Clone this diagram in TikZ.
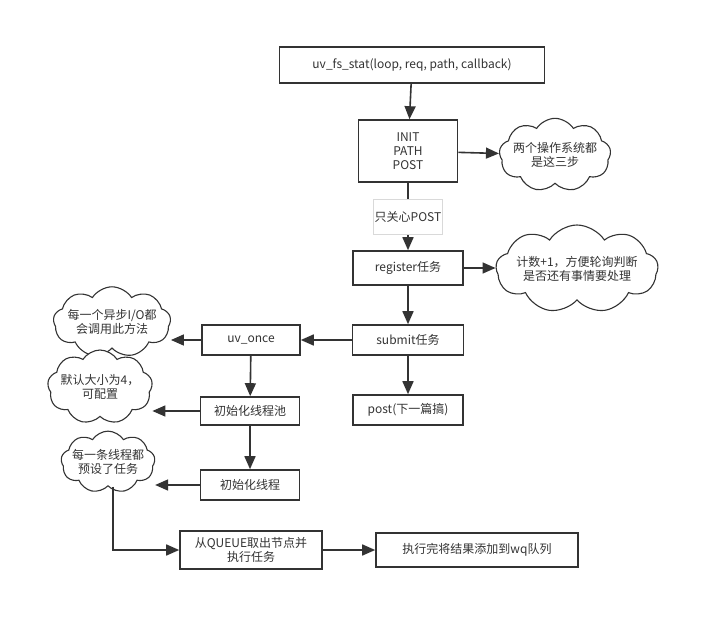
\documentclass[tikz,border=0pt]{standalone}
\usepackage{fontspec}
\setmainfont{Noto Sans CJK SC}
\usetikzlibrary{arrows.meta,positioning,shapes.symbols}
\definecolor{ink}{HTML}{333333}

\begin{document}
\begin{tikzpicture}[x=1pt, y=-1pt,
    box/.style={draw=ink, line width=1.6pt, minimum height=30pt, align=center, font=\fontsize{12}{14}\selectfont, text=ink, fill=white},
    note/.style={draw=ink, cloud, cloud puffs=9, cloud puff arc=115, line width=1.1pt, align=center, font=\fontsize{12}{14}\selectfont, text=ink, fill=white, inner sep=-4pt},
    arrow/.style={-{Triangle[length=13pt, width=11pt]}, line width=1.6pt, draw=ink}
]
\useasboundingbox (0,0) rectangle (720,631);

% main column
\node[box, minimum width=265pt, minimum height=36pt] (call) at (412,65) {uv\_fs\_stat(loop, req, path, callback)};
\node[box, minimum width=99pt, minimum height=62pt] (init) at (408,151) {INIT\\PATH\\POST};
\node[box, minimum width=110pt, minimum height=34pt] (reg) at (408,268) {register任务};
\node[box, minimum width=111pt] (submit) at (408,340) {submit任务};
\node[box, minimum width=110pt] (post) at (408,410) {post(下一篇搞)};

% left column
\node[box, minimum width=98pt] (once) at (251,340) {uv\_once};
\node[box, minimum width=99pt, minimum height=28pt] (pool) at (250,411) {初始化线程池};
\node[box, minimum width=99pt] (thread) at (250,485) {初始化线程};
\node[box, minimum width=142pt, minimum height=38pt] (fetch) at (251,550) {从QUEUE取出节点并\\执行任务};
\node[box, minimum width=202pt, minimum height=34pt] (done) at (477,550) {执行完将结果添加到wq队列};

% clouds
\node[note, aspect=1.9] (c1) at (555,155) {两个操作系统都\\是这三步};
\node[note, aspect=2.6] (c2) at (577,269) {计数+1，方便轮询判断\\是否还有事情要处理};
\node[note, aspect=2.2] (c3) at (112,322) {每一个异步I/O都\\会调用此方法};
\node[note, aspect=1.7] (c4) at (100,387) {默认大小为4，\\可配置};
\node[note, aspect=1.9] (c5) at (108,462) {每一条线程都\\预设了任务};

\draw[arrow] (call) -- (init);
\draw[arrow] (init) -- node[fill=white, draw=gray!30, line width=0.5pt, font=\fontsize{12}{14}\selectfont, text=ink, minimum height=35pt, inner sep=1pt] {只关心POST} (reg);
\draw[arrow] (init) -- (c1);
\draw[arrow] (reg) -- (reg.east -| c2.west);
\draw[arrow] (reg) -- (submit);
\draw[arrow] (submit) -- (post);
\draw[arrow] (submit) -- (once);
\draw[arrow] (once) -- (once.west -| c3.east);
\draw[arrow] (once) -- (pool);
\draw[arrow] (pool) -- (pool.west -| c4.east);
\draw[arrow] (pool) -- (thread);
\draw[arrow] (thread) -- (thread.west -| c5.east);
\draw[arrow] ([xshift=5pt]c5.south) |- (fetch);
\draw[arrow] (fetch) -- (done);
\end{tikzpicture}
\end{document}
